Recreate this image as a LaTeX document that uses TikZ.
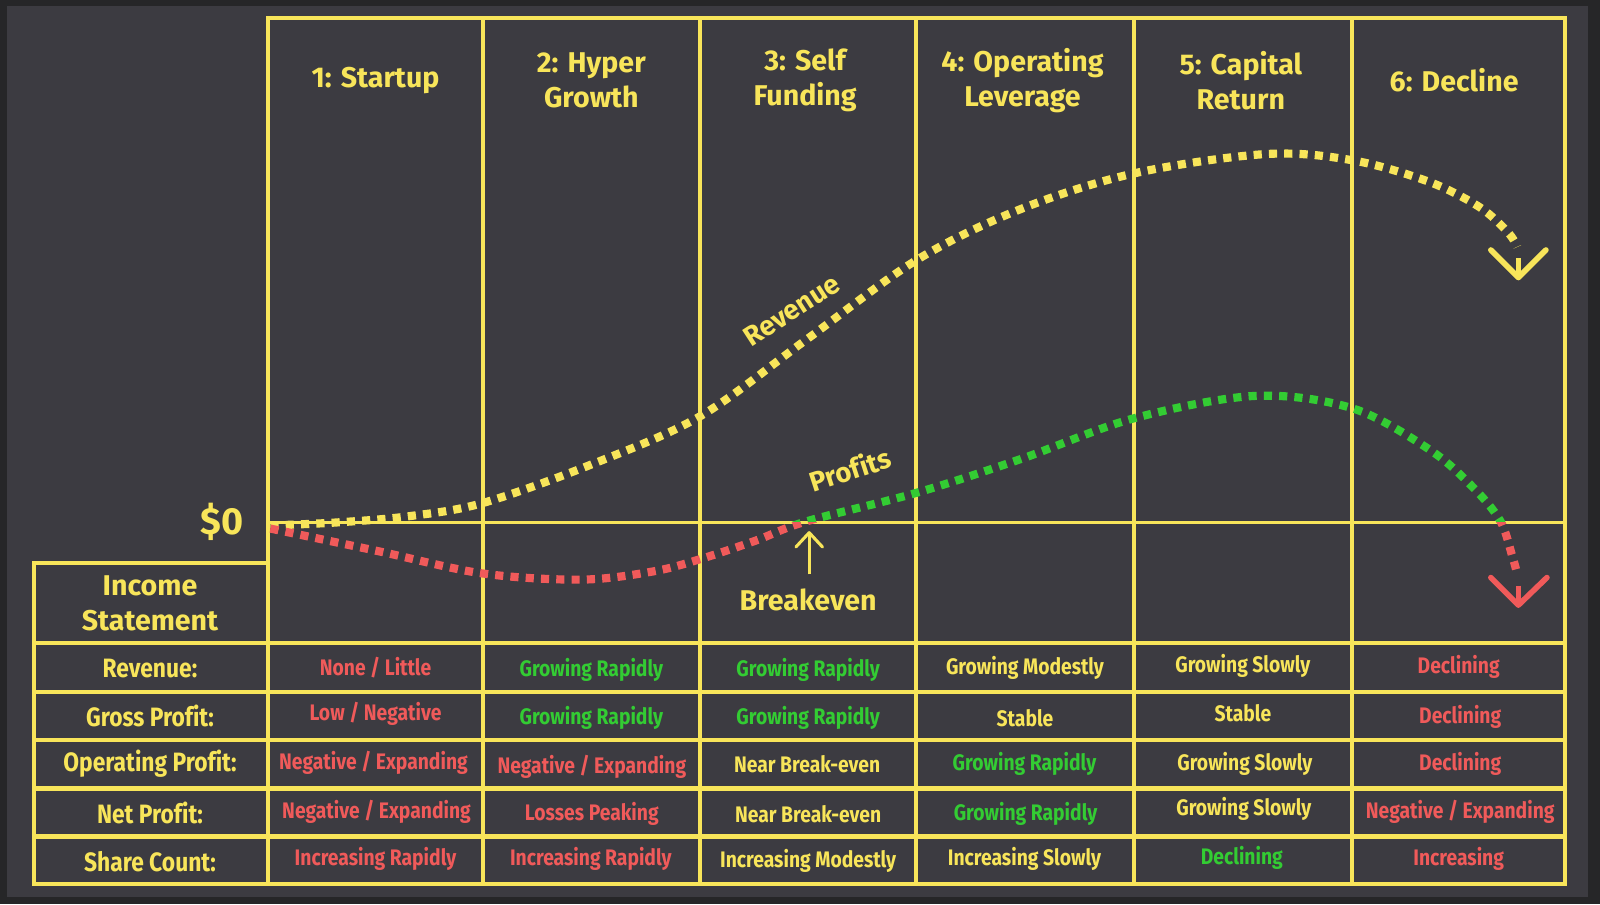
\documentclass[tikz,border=0pt]{standalone}
\usepackage{fontspec}
\setmainfont{Fira Sans}[Ligatures=NoCommon]
\newfontfamily\condfont{Fira Sans}[FakeStretch=0.86, Ligatures=NoCommon]
\definecolor{bgout}{HTML}{262628}
\definecolor{panel}{HTML}{3C3B41}
\definecolor{yel}{HTML}{F8E55A}
\definecolor{redc}{HTML}{F05A5A}
\definecolor{grn}{HTML}{33CC33}
\tikzset{
  gridline/.style={yel, line width=4},
  dotline/.style={line width=8, dash pattern=on 8 off 7},
  hdr/.style={text=yel, font=\bfseries\fontsize{28}{34}\selectfont, align=center, anchor=center},
  lab/.style={text=yel, font=\condfont\bfseries\fontsize{26}{28}\selectfont, anchor=center},
  val/.style={font=\condfont\bfseries\fontsize{22}{24}\selectfont, anchor=center},
  tipline/.style={line width=5.5, line cap=round, line join=round},
}
\begin{document}
\begin{tikzpicture}[x=1pt,y=-1pt]
\useasboundingbox (0,0) rectangle (1568,886);
\fill[bgout] (0,0) rectangle (1568,886);
\fill[panel] (7,6) rectangle (1556,879);

% grid
\draw[gridline] (263,18) rectangle (1534,866);
\foreach \x in {473,686,898,1111,1325} \draw[gridline] (\x,18) -- (\x,866);
\draw[yel, line width=3] (263,512) -- (1534,512);
\draw[gridline] (33,552) rectangle (263,866);
\foreach \y in {630,678,725,773,820} \draw[gridline, line width=4.5] (33,\y) -- (1534,\y);

% headers
\node[hdr] (h1) at (368,79) {1: Startup};
\node[hdr] (h2) at (579.5,79) {2: Hyper\\Growth};
\node[hdr] (h3) at (789,79) {3: Self\\Funding};
\node[hdr] (h4) at (1002,79) {4: Operating\\Leverage};
\node[hdr] (h5) at (1216,79) {5: Capital\\Return};
\node[hdr] (h6) at (1425,79) {6: Decline};

\node[text=yel, font=\bfseries\fontsize{37}{40}\selectfont, anchor=east] (zero) at (242,511) {\$0};
\node[hdr] (inc) at (147,591) {Income\\Statement};

% revenue curve
\draw[yel, dotline] plot[smooth, tension=0.55] coordinates {(265,515) (330,512) (400,506) (473,493) (580,455) (686,408) (790,333) (898,255) (1000,205) (1111,170) (1240,151) (1325,157) (1400,178) (1450,203) (1478,228) (1487,242)};
\coordinate (rtip) at (1488,272);
\draw[yel, tipline] (1461,245) -- (rtip) -- (1515,245);
\draw[yel, line width=4.5] (1488,253) -- (rtip);

% profit curve
\begin{scope}
\clip (0,0) rectangle (1568,512);
\draw[grn, dotline] plot[smooth, tension=0.55] coordinates {(265,518) (370,540) (473,562) (570,568) (640,560) (686,548) (740,530) (790,511) (898,483) (1000,450) (1111,410) (1230,388) (1325,400) (1400,440) (1442,476) (1470,510) (1482,545) (1487,563)};
\end{scope}
\begin{scope}
\clip (0,512) rectangle (1568,886);
\draw[redc, dotline] plot[smooth, tension=0.55] coordinates {(265,518) (370,540) (473,562) (570,568) (640,560) (686,548) (740,530) (790,511) (898,483) (1000,450) (1111,410) (1230,388) (1325,400) (1400,440) (1442,476) (1470,510) (1482,545) (1487,563)};
\end{scope}
\coordinate (ptip) at (1488,593);
\draw[redc, tipline] (1461,566) -- (ptip) -- (1516,566);
\draw[redc, line width=4.5] (1488,574) -- (ptip);

% curve labels
\node[text=yel, font=\bfseries\fontsize{27}{30}\selectfont, rotate=33] (revlab) at (776,304) {Revenue};
\node[text=yel, font=\bfseries\fontsize{27}{30}\selectfont, rotate=18] (proflab) at (833,460) {Profits};

% breakeven
\node[hdr] (be) at (792,588) {Breakeven};
\coordinate (beup) at (793,522);
\draw[yel, line width=3] (793,563) -- (beup);
\draw[yel, line width=3, line cap=round, line join=round] (780,536) -- (beup) -- (806,536);

% table labels
\node[lab] (l1) at (147,655) {Revenue:};
\node[lab] (l2) at (147,702) {Gross Profit:};
\node[lab] (l3) at (147,748) {Operating Profit:};
\node[lab] (l4) at (147,797) {Net Profit:};
\node[lab] (l5) at (147,844) {Share Count:};

% row 1
\node[val, text=redc] (r1c1) at (368,654) {None / Little};
\node[val, text=grn] (r1c2) at (579.5,656) {Growing Rapidly};
\node[val, text=grn] (r1c3) at (792,656) {Growing Rapidly};
\node[val, text=yel] (r1c4) at (1004.5,655) {Growing Modestly};
\node[val, text=yel] (r1c5) at (1218,653) {Growing Slowly};
\node[val, text=redc] (r1c6) at (1429.5,654) {Declining};
% row 2
\node[val, text=redc] (r2c1) at (368,700) {Low / Negative};
\node[val, text=grn] (r2c2) at (579.5,704) {Growing Rapidly};
\node[val, text=grn] (r2c3) at (792,704) {Growing Rapidly};
\node[val, text=yel] (r2c4) at (1004.5,704) {Stable};
\node[val, text=yel] (r2c5) at (1218,699) {Stable};
\node[val, text=redc] (r2c6) at (1431,703) {Declining};
% row 3
\node[val, text=redc] (r3c1) at (366,748) {Negative / Expanding};
\node[val, text=redc] (r3c2) at (580,751) {Negative / Expanding};
\node[val, text=yel] (r3c3) at (791,749) {Near Break-even};
\node[val, text=grn] (r3c4) at (1004,749) {Growing Rapidly};
\node[val, text=yel] (r3c5) at (1220,749) {Growing Slowly};
\node[val, text=redc] (r3c6) at (1431,749) {Declining};
% row 4
\node[val, text=redc] (r4c1) at (369,796) {Negative / Expanding};
\node[val, text=redc] (r4c2) at (580,798) {Losses Peaking};
\node[val, text=yel] (r4c3) at (792,798) {Near Break-even};
\node[val, text=grn] (r4c4) at (1005,798) {Growing Rapidly};
\node[val, text=yel] (r4c5) at (1219,793) {Growing Slowly};
\node[val, text=redc] (r4c6) at (1431,796) {Negative / Expanding};
% row 5
\node[val, text=redc] (r5c1) at (368,842) {Increasing Rapidly};
\node[val, text=redc] (r5c2) at (579,842) {Increasing Rapidly};
\node[val, text=yel] (r5c3) at (792,844) {Increasing Modestly};
\node[val, text=yel] (r5c4) at (1004,842) {Increasing Slowly};
\node[val, text=grn] (r5c5) at (1217,841) {Declining};
\node[val, text=redc] (r5c6) at (1429.5,842) {Increasing};
\end{tikzpicture}
\end{document}
